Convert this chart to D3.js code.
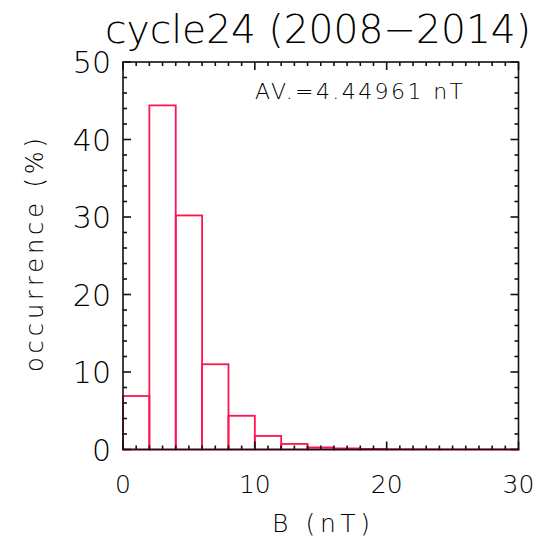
<!DOCTYPE html>
<html><head><meta charset="utf-8">
<script src="https://cdn.jsdelivr.net/npm/d3@7"></script>
<style>body{margin:0;background:#fff}svg{display:block}text{font-family:"DejaVu Sans",sans-serif;fill:#000}</style>
</head><body><svg id="c" width="542" height="544"></svg>
<script>
const binStarts = [0,2,4,6,8,10,12,14,16,18,20,22,24,26,28];
const binWidth = 2;
const occurrence = [6.9,44.4,30.2,11.0,4.35,1.75,0.72,0.27,0.14,0.08,0.04,0.03,0.02,0.02,0.02];
const xTicks = [0,10,20,30];
const yTicks = [0,10,20,30,40,50];
const title = "cycle24 (2008\u22122014)";
const avText = "AV.=4.44961 nT";

const svg = d3.select("#c");
const L=123, R=518.5, T=62, B=449.5;
const x = d3.scaleLinear().domain([0,30]).range([L,R]);
const y = d3.scaleLinear().domain([0,50]).range([B,T]);
const red = "#ff1450";

// bars
svg.append("g").selectAll("rect").data(binStarts).join("rect")
  .attr("x", d=>x(d)).attr("width", d=>x(d+binWidth)-x(d))
  .attr("y", (d,i)=>y(occurrence[i])).attr("height",(d,i)=>y(0)-y(occurrence[i]))
  .attr("fill","none").attr("stroke",red).attr("stroke-width",1.8);

// axes frame
const ax = svg.append("g").attr("stroke","#111").attr("stroke-width",1.6).attr("fill","none");
ax.append("rect").attr("x",L).attr("y",T).attr("width",R-L).attr("height",B-T);
const xMinor = d3.range(0,31,1), yMinor = d3.range(0,51,2);
xMinor.forEach(v=>{
  const len = v%10===0?8:4;
  ax.append("line").attr("x1",x(v)).attr("x2",x(v)).attr("y1",B).attr("y2",B-len);
  ax.append("line").attr("x1",x(v)).attr("x2",x(v)).attr("y1",T).attr("y2",T+len);
});
yMinor.forEach(v=>{
  const len = v%10===0?8:4;
  ax.append("line").attr("y1",y(v)).attr("y2",y(v)).attr("x1",L).attr("x2",L+len);
  ax.append("line").attr("y1",y(v)).attr("y2",y(v)).attr("x1",R).attr("x2",R-len);
});

// tick labels
svg.append("g").selectAll("text").data(xTicks).join("text")
  .attr("x",d=>x(d)).attr("y",493).attr("text-anchor","middle")
  .attr("font-size",25).attr("font-weight",200).text(d=>d);
svg.append("g").selectAll("text").data(yTicks).join("text")
  .attr("x",111).attr("y",d=>y(d)+11).attr("text-anchor","end")
  .attr("font-size",30).attr("font-weight",200).text(d=>d);

svg.append("text").attr("x",105).attr("y",43)
  .attr("font-size",39).attr("font-weight",200)
  .attr("textLength",426).attr("lengthAdjust","spacingAndGlyphs").text(title);
svg.append("text").attr("x",272).attr("y",532)
  .attr("font-size",25).attr("font-weight",200)
  .attr("textLength",98).attr("lengthAdjust","spacing").text("B (nT)");
svg.append("text").attr("transform","translate(43,372) rotate(-90)")
  .attr("font-size",24).attr("font-weight",200)
  .attr("textLength",234).attr("lengthAdjust","spacing").text("occurrence (%)");
svg.append("text").attr("x",255).attr("y",99)
  .attr("font-size",22).attr("font-weight",200)
  .attr("textLength",208).attr("lengthAdjust","spacing").text(avText);
</script></body></html>
